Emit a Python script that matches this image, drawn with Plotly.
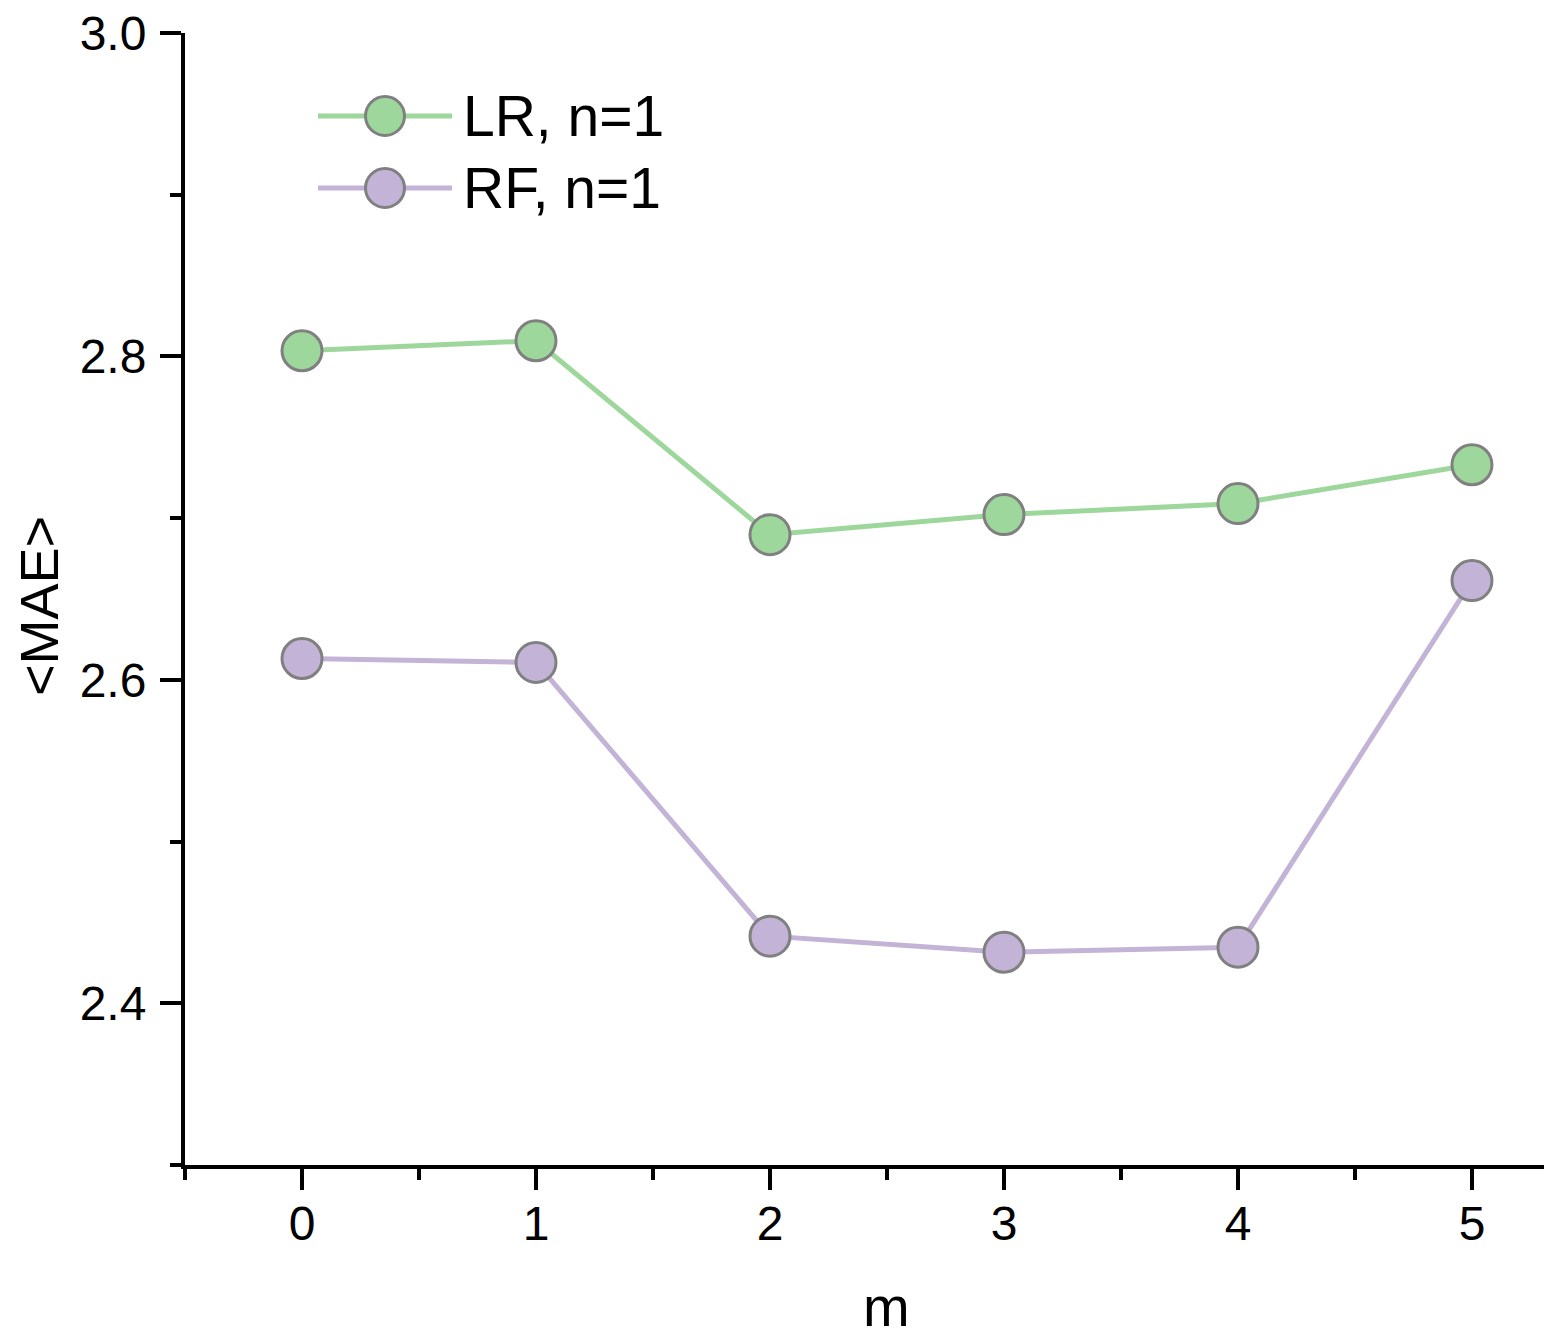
import plotly.graph_objects as go

m_values = [0, 1, 2, 3, 4, 5]
lr_mae = [2.8035, 2.8097, 2.6898, 2.7022, 2.7090, 2.7330]
rf_mae = [2.6132, 2.6108, 2.4415, 2.4316, 2.4347, 2.6614]
series_names = ["LR, n=1", "RF, n=1"]
y_ticks = [2.4, 2.6, 2.8, 3.0]
x_ticks = [0, 1, 2, 3, 4, 5]

GREEN = "#9ED79C"
PURPLE = "#C3B3D7"
EDGE = "#808080"
FONT = "Liberation Sans, Arial, sans-serif"

# the page body adds an 8px margin, so the figure is made 8px smaller
OFF = 8
W, H = 1552 - OFF, 1337 - OFF
L, R, T = 185 - OFF, 0, 33 - OFF
B = H - (1165 - OFF)
PW, PH = W - L - R, H - T - B

def px(x):
    return (x - OFF - L) / PW

def py(y):
    return (H - B - (y - OFF)) / PH

fig = go.Figure()
for name, vals, col in [(series_names[0], lr_mae, GREEN), (series_names[1], rf_mae, PURPLE)]:
    fig.add_trace(go.Scatter(
        x=m_values, y=vals, name=name, mode="lines+markers",
        line=dict(color=col, width=5),
        marker=dict(size=40, color=col, line=dict(color=EDGE, width=3)),
        showlegend=False, cliponaxis=False,
    ))

shapes = []
annotations = []
for i, (name, col) in enumerate([(series_names[0], GREEN), (series_names[1], PURPLE)]):
    yy = 116 + i * 72
    shapes.append(dict(type="line", xref="paper", yref="paper",
                       x0=px(318), x1=px(452), y0=py(yy), y1=py(yy),
                       line=dict(color=col, width=5)))
    shapes.append(dict(type="circle", xref="paper", yref="paper",
                       xsizemode="pixel", ysizemode="pixel",
                       xanchor=px(385), yanchor=py(yy),
                       x0=-19.5, x1=19.5, y0=-19.5, y1=19.5,
                       fillcolor=col, line=dict(color=EDGE, width=3)))
    annotations.append(dict(text=name, xref="paper", yref="paper",
                            x=px(461), y=py(yy), xanchor="left", yanchor="middle",
                            showarrow=False, font=dict(family=FONT, size=57, color="black")))

annotations.append(dict(text="m", xref="paper", yref="paper", x=px(886), y=py(1306),
                        xanchor="center", yanchor="middle", showarrow=False,
                        font=dict(family=FONT, size=56, color="black")))
annotations.append(dict(text="&lt;MAE&gt;", xref="paper", yref="paper", x=px(39), y=py(606),
                        xanchor="center", yanchor="middle", showarrow=False, textangle=-90,
                        font=dict(family=FONT, size=54, color="black")))

axis_common = dict(
    showline=True, linecolor="black", linewidth=4, mirror=False,
    ticks="outside", ticklen=21, tickwidth=4, tickcolor="black",
    showgrid=False, zeroline=False, ticklabeloverflow="allow",
    tickfont=dict(family=FONT, size=48, color="black"),
)

fig.update_layout(
    width=W, height=H,
    margin=dict(l=L, r=R, t=T, b=B, pad=0),
    paper_bgcolor="white", plot_bgcolor="white",
    shapes=shapes, annotations=annotations,
    xaxis=dict(range=[-0.5, 5.342], tickvals=x_ticks, ticktext=[str(v) for v in x_ticks],
               minor=dict(ticks="outside", ticklen=11, tickwidth=4, tickcolor="black", dtick=0.5, tick0=-0.5),
               ticklabelstandoff=-8, **axis_common),
    yaxis=dict(range=[2.3, 3.0], tickvals=y_ticks, ticktext=[f"{v:.1f}" for v in y_ticks],
               minor=dict(ticks="outside", ticklen=11, tickwidth=4, tickcolor="black", dtick=0.1, tick0=2.3),
               ticklabelstandoff=4, **axis_common),
)

fig.write_html("out.html")
